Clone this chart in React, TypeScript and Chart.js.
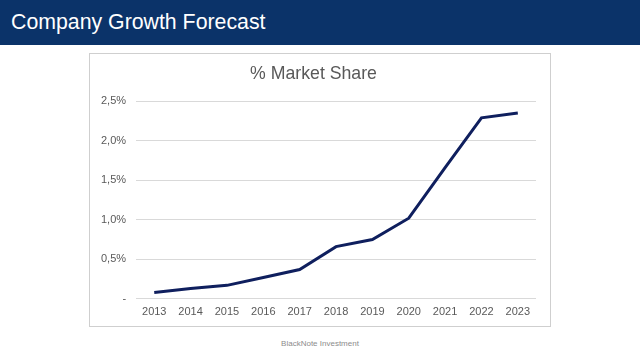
import React, { useEffect, useRef } from "react";
import { Chart, registerables } from "chart.js";

Chart.register(...registerables);

const years = ["2013", "2014", "2015", "2016", "2017", "2018", "2019", "2020", "2021", "2022", "2023"];
const marketShare = [0.08, 0.13, 0.17, 0.27, 0.37, 0.66, 0.75, 1.02, 1.66, 2.29, 2.35];
const yTicks = [0, 0.5, 1.0, 1.5, 2.0, 2.5];

const FONT = "'Liberation Sans', Arial, sans-serif";

export default function App() {
  const ref = useRef<HTMLCanvasElement | null>(null);

  useEffect(() => {
    if (!ref.current) return;
    const chart = new Chart(ref.current, {
      type: "line",
      data: {
        labels: years,
        datasets: [
          {
            label: "% Market Share",
            data: marketShare,
            borderColor: "#0f1f5e",
            borderWidth: 3,
            pointRadius: 0,
            tension: 0,
            fill: false,
          },
        ],
      },
      options: {
        responsive: false,
        animation: false,
        layout: { padding: { left: 1, right: 14, top: 6, bottom: 0 } },
        plugins: {
          legend: { display: false },
          tooltip: { enabled: false },
          title: {
            display: true,
            text: "% Market Share",
            color: "#595959",
            font: { family: FONT, size: 17.7, weight: "normal" },
            padding: { top: 3, bottom: 17 },
          },
        },
        scales: {
          x: {
            offset: true,
            grid: { display: false, drawTicks: false },
            border: { display: false },
            ticks: {
              color: "#595959",
              font: { family: FONT, size: 11 },
              maxRotation: 0,
              padding: 7,
            },
          },
          y: {
            min: 0,
            max: 2.5,
            afterBuildTicks: (axis: any) => {
              axis.ticks = yTicks.map((v) => ({ value: v }));
            },
            grid: { color: "#d9d9d9", lineWidth: 1, drawTicks: false },
            border: { display: false },
            ticks: {
              color: "#595959",
              font: { family: FONT, size: 11 },
              padding: 10,
              callback: (v: any) =>
                Number(v) === 0 ? "-" : Number(v).toFixed(1).replace(".", ",") + "%",
            },
          },
        },
      },
    });
    return () => chart.destroy();
  }, []);

  return (
    <div
      style={{
        position: "fixed",
        left: 0,
        top: 0,
        width: 640,
        height: 360,
        background: "#ffffff",
        fontFamily: FONT,
        overflow: "hidden",
      }}
    >
      <div
        style={{
          position: "absolute",
          left: 0,
          top: 0,
          width: 640,
          height: 45,
          background: "#0b3369",
        }}
      >
        <div
          style={{
            position: "absolute",
            left: 11,
            top: 10,
            color: "#ffffff",
            fontSize: 21.3,
            lineHeight: "24px",
            whiteSpace: "nowrap",
          }}
        >
          Company Growth Forecast
        </div>
      </div>
      <div
        style={{
          position: "absolute",
          left: 89,
          top: 53,
          width: 460,
          height: 272,
          border: "1px solid #cfcfcf",
          background: "#ffffff",
        }}
      >
        <canvas ref={ref} width={460} height={272} style={{ display: "block" }} />
      </div>
      <div
        style={{
          position: "absolute",
          left: 0,
          top: 339,
          width: 640,
          textAlign: "center",
          color: "#8c8c8c",
          fontSize: 8,
          lineHeight: "10px",
        }}
      >
        BlackNote Investment
      </div>
    </div>
  );
}
